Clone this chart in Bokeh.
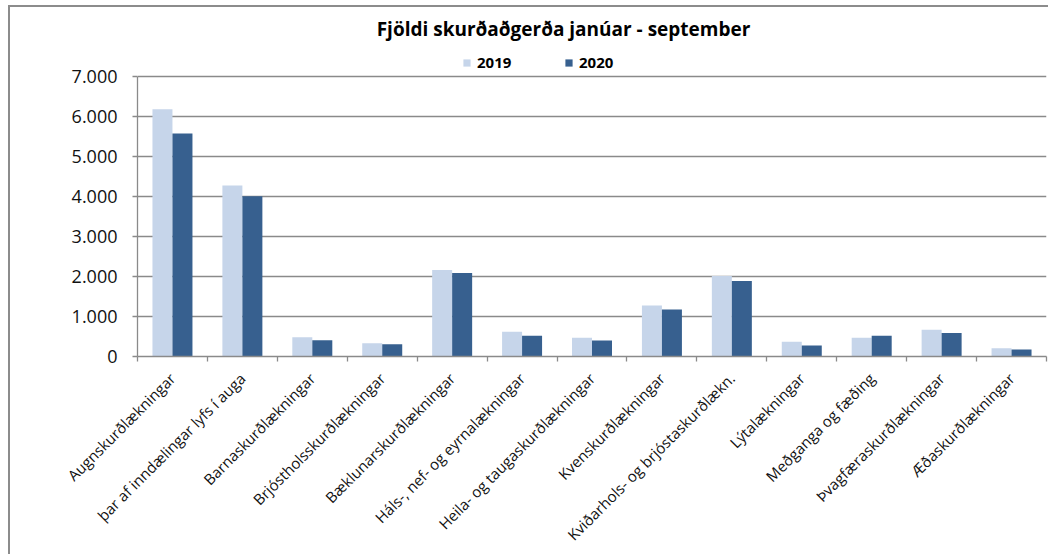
from bokeh.plotting import figure
from bokeh.models import (ColumnDataSource, Range1d, LinearAxis, Label,
                          FixedTicker, Legend, LegendItem)
from bokeh.embed import file_html
from bokeh.resources import INLINE
from math import pi

categories = [
    "Augnskurðlækningar",
    "þar af inndælingar lyfs í auga",
    "Barnaskurðlækningar",
    "Brjóstholsskurðlækningar",
    "Bæklunarskurðlækningar",
    "Háls-, nef- og eyrnalækningar",
    "Heila- og taugaskurðlækningar",
    "Kvenskurðlækningar",
    "Kviðarhols- og brjóstaskurðlækn.",
    "Lýtalækningar",
    "Meðganga og fæðing",
    "Þvagfæraskurðlækningar",
    "Æðaskurðlækningar",
]
values_2019 = [6180, 4275, 483, 333, 2164, 618, 468, 1278, 2013, 368, 468, 668, 209]
values_2020 = [5575, 4008, 408, 308, 2089, 518, 401, 1178, 1888, 276, 518, 585, 175]
series_names = ["2019", "2020"]
y_ticks = [0, 1000, 2000, 3000, 4000, 5000, 6000, 7000]
y_tick_labels = ["0", "1.000", "2.000", "3.000", "4.000", "5.000", "6.000", "7.000"]
title_text = "Fjöldi skurðaðgerða janúar - september"

C_LIGHT = "#C6D5EA"
C_DARK = "#37608F"
GRID = "#8a8a8a"
FONT = "Open Sans"

n = len(categories)
centers = [i + 0.5 for i in range(n)]
BAR_W = 0.286
source = ColumnDataSource(dict(
    cat=categories,
    x19=[c - BAR_W / 2 for c in centers],
    x20=[c + BAR_W / 2 for c in centers],
    v2019=values_2019, v2020=values_2020))

# frame extends above the 7.000 line so that title and legend sit inside it
p = figure(x_range=Range1d(0, n), y_range=Range1d(0, 8550),
           frame_width=909, frame_height=342,
           min_border_left=127, min_border_top=7, min_border_right=2, min_border_bottom=190,
           output_backend="svg", toolbar_location=None, x_axis_location=None,
           background_fill_color="white", border_fill_color="white")
p.styles = {"margin-left": "8px", "margin-top": "5px",
            "border-top": "2px solid #8c8c8c", "border-left": "2px solid #8c8c8c",
            "border-right": "none", "border-bottom": "none"}
p.outline_line_color = None
p.xgrid.grid_line_color = None
p.ygrid.grid_line_color = GRID
p.ygrid.grid_line_width = 1.3
p.ygrid.ticker = FixedTicker(ticks=y_ticks[1:])

r1 = p.vbar(x="x19", top="v2019", width=BAR_W, source=source,
            fill_color=C_LIGHT, line_color=None)
r2 = p.vbar(x="x20", top="v2020", width=BAR_W, source=source,
            fill_color=C_DARK, line_color=None)

# y axis
ya = p.yaxis[0]
ya.ticker = FixedTicker(ticks=y_ticks)
ya.bounds = (y_ticks[0], y_ticks[-1])
ya.major_label_overrides = {t: l for t, l in zip(y_ticks, y_tick_labels)}
ya.axis_line_color = GRID
ya.axis_line_width = 1.3
ya.major_tick_line_color = GRID
ya.major_tick_line_width = 1.3
ya.major_tick_in = 0
ya.major_tick_out = 5
ya.minor_tick_line_color = None
ya.major_label_standoff = 15
ya.major_label_text_font = FONT
ya.major_label_text_font_size = "18px"
ya.major_label_text_color = "#111111"

# x axis: boundary ticks
bounds = list(range(n + 1))
xb = LinearAxis(ticker=FixedTicker(ticks=bounds))
xb.major_label_overrides = {b: "" for b in bounds}
xb.axis_line_color = GRID
xb.axis_line_width = 1.3
xb.major_tick_line_color = GRID
xb.major_tick_line_width = 1.3
xb.major_tick_in = 0
xb.major_tick_out = 5
xb.minor_tick_line_color = None
xb.major_label_text_font_size = "0px"
xb.major_label_standoff = 0
p.add_layout(xb, "below")

# x axis: category labels
xc = LinearAxis(ticker=FixedTicker(ticks=centers))
xc.major_label_overrides = {c: name for c, name in zip(centers, categories)}
xc.axis_line_color = None
xc.major_tick_line_color = None
xc.minor_tick_line_color = None
xc.major_label_orientation = pi / 4
xc.major_label_standoff = 8
xc.major_label_text_font = FONT
xc.major_label_text_font_size = "15px"
xc.major_label_text_color = "#111111"
p.add_layout(xc, "below")

legend = Legend(items=[LegendItem(label=series_names[0], renderers=[r1]),
                       LegendItem(label=series_names[1], renderers=[r2])],
                location=(325, 284), orientation="horizontal",
                glyph_width=9, glyph_height=9, label_standoff=6, spacing=0,
                label_width=87, padding=0, margin=0,
                border_line_color=None, background_fill_alpha=0,
                label_text_font=FONT, label_text_font_size="15px",
                label_text_font_style="bold", label_text_color="#000000")
p.add_layout(legend, "center")

p.add_layout(Label(x=426, y=328, x_units="screen", y_units="screen", text=title_text,
                   text_align="center", text_baseline="alphabetic",
                   text_font=FONT, text_font_size="19px", text_font_style="bold",
                   text_color="#000000"))

open("out.html", "w").write(file_html(p, INLINE))
